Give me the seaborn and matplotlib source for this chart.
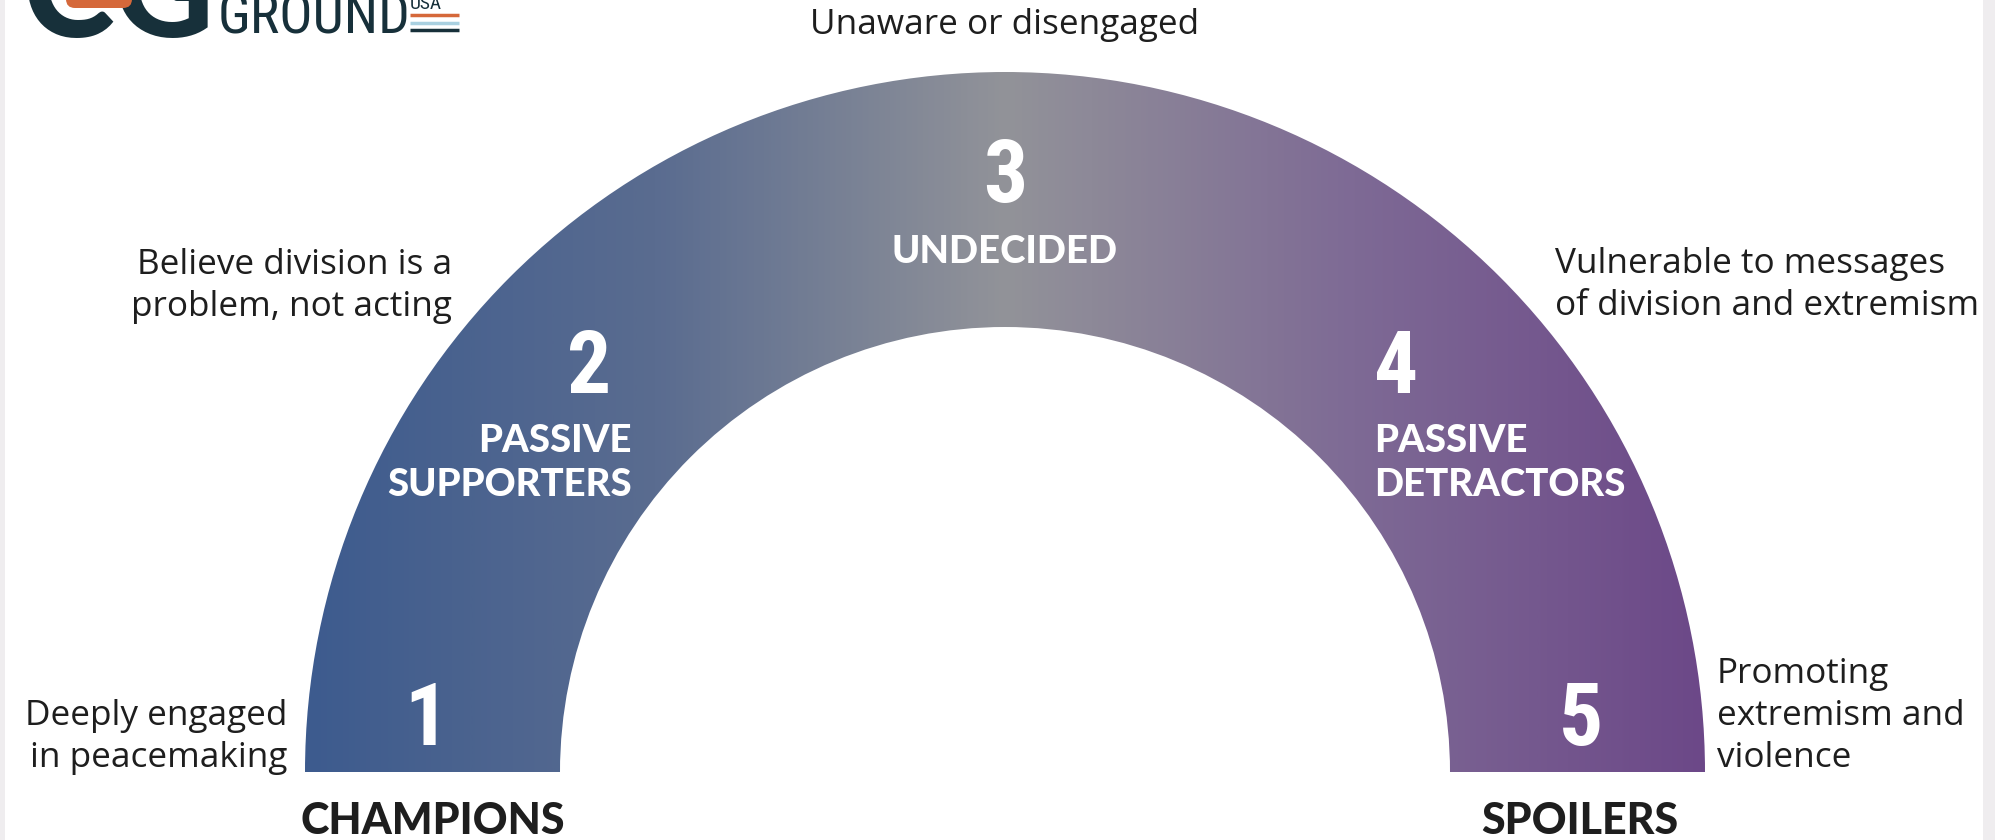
import numpy as np
import matplotlib
matplotlib.use("Agg")
import matplotlib.pyplot as plt
from matplotlib.patches import Wedge, Rectangle, FancyBboxPatch
import seaborn as sns

# segment data
numbers = ["1", "2", "3", "4", "5"]
names = ["CHAMPIONS", "PASSIVE\nSUPPORTERS", "UNDECIDED", "PASSIVE\nDETRACTORS", "SPOILERS"]
descriptions = [
    "Deeply engaged\nin peacemaking",
    "Believe division is a\nproblem, not acting",
    "Unaware or disengaged",
    "Vulnerable to messages\nof division and extremism",
    "Promoting\nextremism and\nviolence",
]
gradient_colors = ["#3D5B8E", "#5A6C90", "#929399", "#7E6A95", "#6C4888"]

# layout (pixel coords, y measured from top)
W, H = 1995, 840
cx, cy = 1005, 772
r_out, r_in = 700, 445
num_pos = [(426, 721), (589, 369), (1005, 178), (1374, 369), (1581, 721)]
num_ha = ["center", "center", "center", "left", "center"]
name_pos = [(433, 821), (632, 463), (1005, 252), (1374, 463), (1580, 821)]
name_ha = ["center", "right", "center", "left", "center"]
desc_pos = [(287, 737), (452, 286), (1005, 25), (1555, 285), (1717, 716)]
desc_ha = ["right", "right", "center", "left", "left"]

sns.set_style("white")
plt.rcParams["font.family"] = ["Lato", "DejaVu Sans"]

fig = plt.figure(figsize=(W / 100, H / 100), dpi=100)
ax = fig.add_axes([0, 0, 1, 1])
ax.set_xlim(0, W)
ax.set_ylim(H, 0)
ax.axis("off")

# side margins of the screenshot
ax.add_patch(Rectangle((0, 0), 5, H, color="#EFEDEF", lw=0))
ax.add_patch(Rectangle((1983, 0), W - 1983, H, color="#EFEDEF", lw=0))

# gradient half ring
cmap = sns.blend_palette(gradient_colors, as_cmap=True)
grad = np.linspace(0, 1, 512).reshape(1, -1)
img = ax.imshow(grad, cmap=cmap, aspect="auto",
                extent=[cx - r_out, cx + r_out, cy, cy - r_out], zorder=2)
ring = Wedge((cx, cy), r_out, 180, 360, width=r_out - r_in,
             transform=ax.transData, facecolor="none", edgecolor="none")
ax.add_patch(ring)
img.set_clip_path(ring)

num_font = ["Roboto Condensed", "DejaVu Sans Condensed", "Liberation Sans Narrow",
            "Roboto", "DejaVu Sans"]
desc_font = ["Open Sans", "DejaVu Sans"]
for i in range(5):
    x, y = num_pos[i]
    ax.text(x, y, numbers[i], ha=num_ha[i], va="center", color="white",
            fontsize=63, fontweight="bold", family=num_font, zorder=3)
    x, y = name_pos[i]
    outside = i in (0, 4)
    ax.text(x, y, names[i], ha=name_ha[i], va="center",
            color="#1E1E1E" if outside else "white",
            fontsize=31 if outside else 27.5, fontweight="black",
            linespacing=1.36, multialignment=name_ha[i], zorder=3)
    x, y = desc_pos[i]
    ax.text(x, y, descriptions[i], ha=desc_ha[i], va="center", color="#1E1E1E",
            fontsize=25.3, linespacing=1.32, multialignment=desc_ha[i],
            family=desc_font, zorder=3)

# logo (cut off at top)
dark = "#17303A"
ax.text(22, 37, "CG", ha="left", va="baseline", color=dark, fontsize=100,
        fontweight="black", zorder=4)
ax.add_patch(FancyBboxPatch((66, -10), 66, 18, boxstyle="round,pad=0,rounding_size=9",
                            color="#D5683A", lw=0, zorder=5))
ax.text(218, 33, "GROUND", ha="left", va="baseline", color=dark, fontsize=40,
        family=num_font, zorder=4)
ax.text(410, 9, "USA", ha="left", va="baseline", color=dark, fontsize=14,
        family=num_font, zorder=4)
for yy, c in [(15, "#D5683A"), (23, "#A9D0E0"), (30, dark)]:
    ax.plot([410, 459], [yy, yy], color=c, lw=2.5, solid_capstyle="butt", zorder=4)

fig.savefig("out.png", dpi=100)
